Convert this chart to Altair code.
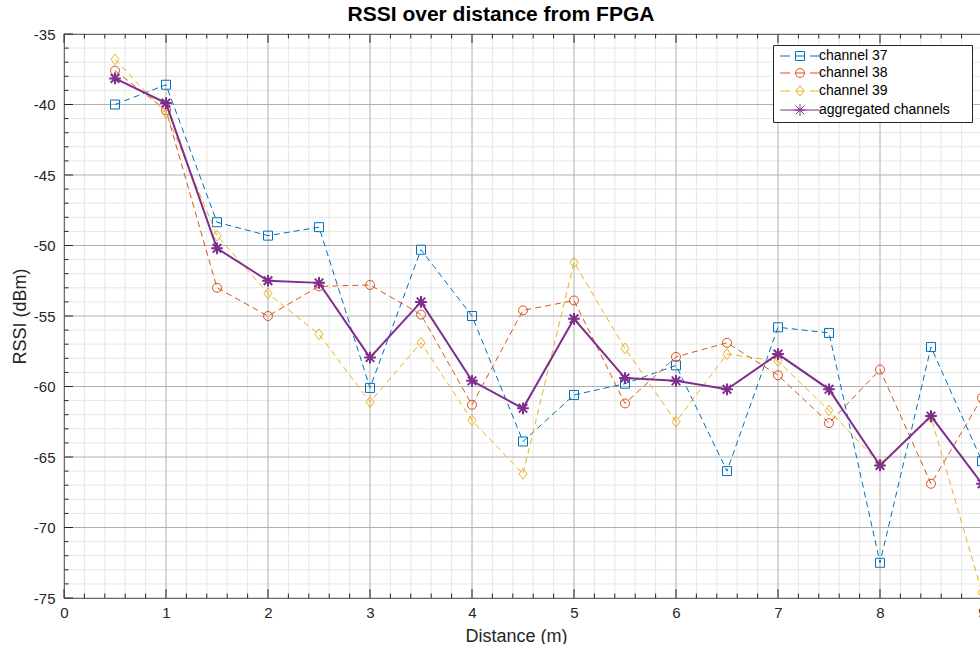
import altair as alt
import pandas as pd

FONT = "Liberation Sans"
INK = "#262626"

# Measured RSSI per distance step (dBm)
distance = [0.5, 1.0, 1.5, 2.0, 2.5, 3.0, 3.5, 4.0, 4.5, 5.0, 5.5, 6.0, 6.5, 7.0, 7.5, 8.0, 8.5, 9.0]
channel_37 = [-40.0, -38.6, -48.35, -49.3, -48.7, -60.1, -50.3, -55.0, -63.9, -60.6, -59.8, -58.5, -66.0, -55.8, -56.2, -72.5, -57.2, -65.3]
channel_38 = [-37.6, -40.4, -53.0, -55.0, -52.9, -52.8, -54.9, -61.3, -54.6, -53.9, -61.2, -57.9, -56.9, -59.2, -62.6, -58.8, -66.9, -60.8]
channel_39 = [-36.8, -40.6, -49.3, -53.4, -56.3, -61.1, -56.9, -62.4, -66.2, -51.2, -57.3, -62.5, -57.7, -58.2, -61.7, -65.5, -62.2, -74.6]
aggregated = [-38.15, -39.9, -50.2, -52.5, -52.65, -57.95, -54.0, -59.6, -61.55, -55.2, -59.4, -59.6, -60.2, -57.7, -60.2, -65.6, -62.1, -66.9]

series_names = ["channel 37", "channel 38", "channel 39", "aggregated channels"]
series_values = [channel_37, channel_38, channel_39, aggregated]
series_colors = ["#0072BD", "#D95319", "#EDB120", "#7E2F8E"]

# Axis tick values
x_major = list(range(0, 10))
y_major = list(range(-75, -34, 5))
x_minor = [round(i * 0.2, 1) for i in range(46) if i % 5]
y_minor = [v for v in range(-75, -34) if v % 5]

W, H = 918, 564

# Marker outlines (unit paths, scaled by the point size)
SQUARE = "M-1,-1H1V1H-1Z"
CIRCLE = "M1,0A1,1,0,1,1,-1,0A1,1,0,1,1,1,0Z"
DIAMOND = "M0,-1.2L0.9,0L0,1.2L-0.9,0Z"
STAR = "M-1.3,0H1.3M0,-1.3V1.3M-0.95,-0.95L0.95,0.95M-0.95,0.95L0.95,-0.95"
markers = [SQUARE, CIRCLE, DIAMOND, STAR]

DASHED_KEY = "M-4.4,0H-2.2M-1,0H1M2.2,0H4.4"
SOLID_KEY = "M-4.4,0H4.4"
legend_symbols = [SQUARE + DASHED_KEY, CIRCLE + DASHED_KEY, DIAMOND + DASHED_KEY, STAR + SOLID_KEY]

line_widths = [1, 1, 1, 2]

rows = []
for name, vals in zip(series_names, series_values):
    for d, v in zip(distance, vals):
        rows.append({"series": name, "distance": d, "rssi": v})
data = pd.DataFrame(rows)

x_scale = alt.Scale(domain=[0, 9], nice=False, zero=False)
y_scale = alt.Scale(domain=[-75, -35], nice=False, zero=False)

x_axis = alt.Axis(
    values=x_major, title="Distance (m)", grid=False, domain=False, ticks=False, tickSize=0,
    labelPadding=7, labelFontSize=15, labelFont=FONT, labelColor=INK, labelFlush=False,
    labelOverlap=False, titleFont=FONT, titleFontSize=18, titleFontWeight="normal",
    titleColor=INK, titleX=452, titleY=43, titleBaseline="alphabetic", titleAlign="center",
)
y_axis = alt.Axis(
    values=y_major, title="RSSI (dBm)", grid=False, domain=False, ticks=False, tickSize=0,
    labelExpr="'' + datum.value", labelPadding=9, labelFontSize=15, labelFont=FONT,
    labelColor=INK, labelFlush=False, labelOverlap=False, titleFont=FONT, titleFontSize=18,
    titleFontWeight="normal", titleColor=INK, titleAngle=270, titleX=-39, titleY=282,
    titleBaseline="alphabetic", titleAlign="center",
)


def X(field):
    return alt.X(field, scale=x_scale, axis=x_axis)


def Y(field):
    return alt.Y(field, scale=y_scale, axis=y_axis)


def vgrid(values, color):
    return alt.Chart(pd.DataFrame({"v": values})).mark_rule(color=color, strokeWidth=1).encode(x=X("v:Q"))


def hgrid(values, color):
    return alt.Chart(pd.DataFrame({"v": values})).mark_rule(color=color, strokeWidth=1).encode(y=Y("v:Q"))


def xticks(values, length):
    df = pd.DataFrame({"v": values})
    bottom = alt.Chart(df).mark_rule(color=INK, strokeWidth=1).encode(
        x=X("v:Q"), y=alt.value(H), y2=alt.value(H - length)
    )
    top = alt.Chart(df).mark_rule(color=INK, strokeWidth=1).encode(
        x=X("v:Q"), y=alt.value(0), y2=alt.value(length)
    )
    return [bottom, top]


def yticks(values, length):
    df = pd.DataFrame({"v": values})
    left = alt.Chart(df).mark_rule(color=INK, strokeWidth=1).encode(
        y=Y("v:Q"), x=alt.value(0), x2=alt.value(length)
    )
    return [left]


layers = [
    vgrid(x_minor, "#e6e6e6"),
    hgrid(y_minor, "#e6e6e6"),
    vgrid(x_major, "#b0b0b0"),
    hgrid(y_major, "#b0b0b0"),
]

for name, color, marker, lw in zip(series_names, series_colors, markers, line_widths):
    base = alt.Chart(data).transform_filter(alt.datum.series == name)
    line_kwargs = dict(color=color, strokeWidth=lw, strokeCap="butt")
    if lw == 1:
        line_kwargs["strokeDash"] = [6, 4]
    line = base.mark_line(**line_kwargs).encode(x=X("distance:Q"), y=Y("rssi:Q"))
    pts = base.mark_point(shape=marker, size=81, filled=False, color=color, strokeWidth=lw, opacity=1).encode(
        x=X("distance:Q"), y=Y("rssi:Q")
    )
    layers += [line, pts]

layers += xticks(x_major, 9) + xticks(x_minor, 4.5) + yticks(y_major, 9) + yticks(y_minor, 4.5)

# A blank title on the right side widens the key box past the longest label
legend = alt.Legend(
    title="\u00a0", titleOrient="right", titlePadding=18, titleFontSize=14, titleFont=FONT,
    orient="none", legendX=709, legendY=11, fillColor="white", strokeColor=INK,
    padding=4, labelFont=FONT, labelFontSize=14, labelColor="#000000", symbolSize=81,
    symbolOffset=16, labelOffset=12, rowPadding=3, labelLimit=400,
)
key_layer = alt.Chart(data).transform_filter("false").mark_point(filled=False, size=81, opacity=1).encode(
    x=X("distance:Q"),
    y=Y("rssi:Q"),
    color=alt.Color("series:N", scale=alt.Scale(domain=series_names, range=series_colors), legend=legend),
    shape=alt.Shape("series:N", scale=alt.Scale(domain=series_names, range=legend_symbols), legend=legend),
    strokeWidth=alt.StrokeWidth("series:N", scale=alt.Scale(domain=series_names, range=line_widths), legend=legend),
)
layers.append(key_layer)

chart = alt.layer(*layers).properties(
    width=W,
    height=H,
    title=alt.TitleParams(
        "RSSI over distance from FPGA", font=FONT, fontSize=21, fontWeight="bold", color="#000000",
        anchor="middle", frame="group", offset=7, baseline="alphabetic", dx=-22, dy=22,
    ),
    autosize=alt.AutoSizeParams(type="none"),
    padding={"left": 64, "top": 34, "right": -2, "bottom": 46},
    background="white",
).configure_view(stroke=INK, strokeWidth=1)

chart.save("out.html", embed_options={"renderer": "svg", "actions": False})
